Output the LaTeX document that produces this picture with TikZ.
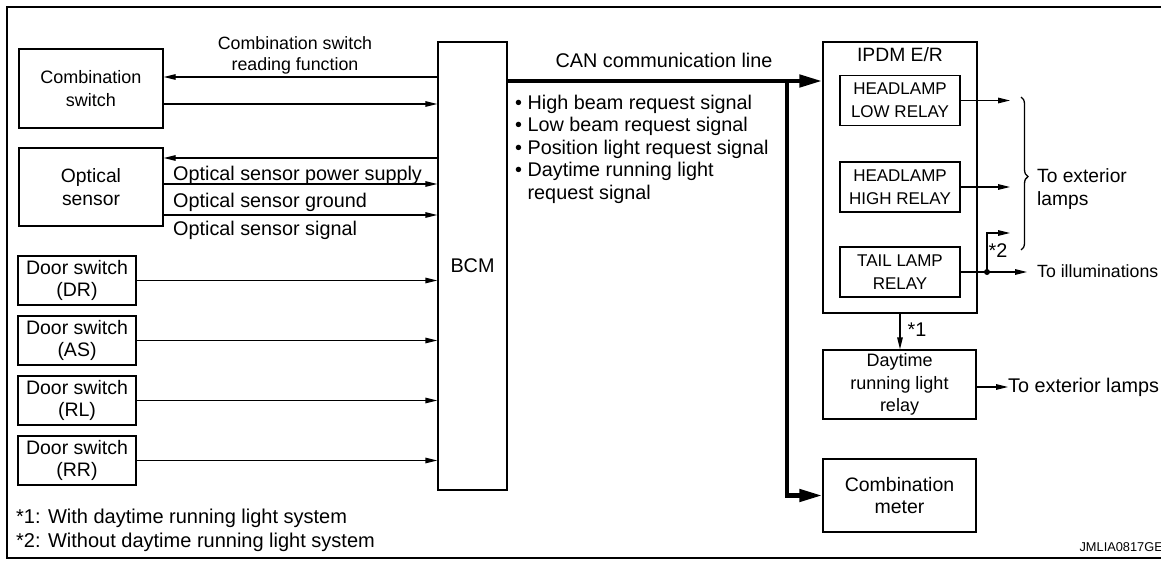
\documentclass[tikz,border=0pt]{standalone}
\usepackage{fontspec}
\setmainfont{Liberation Sans}
\usetikzlibrary{positioning,arrows.meta,decorations.pathreplacing,calc}
\tikzset{
  >={Triangle[length=12pt,width=5.5pt]},
  fsz/.style={font=\fontsize{#1}{22.5}\selectfont},
  every node/.style={fsz=19.8},
  blk/.style args={#1,#2}{
  draw,
  line width=1.3pt,
  align=center,
  inner sep=0pt,
  minimum width=#1pt,
  minimum height=#2pt,
  },
  relay/.style={blk={120,50},font=\fontsize{17}{23}\selectfont},
  sig/.style={->,line width=1.3pt},
  canline/.style={line width=4.5pt,-{Triangle[length=23pt,width=12pt]}},
  txt/.style={inner sep=0pt},
  dots/.style={fill=black,circle,inner sep=0pt,minimum size=6pt},
  brc/.style={decorate,decoration={brace,amplitude=7pt,aspect=0.52},line width=1.3pt}
}
\begin{document}
\begin{tikzpicture}[x=1pt,y=-1pt]
  \useasboundingbox (0,0) rectangle (1161,561);
  \draw[line width=2.6pt] (7,558) -- (7,7) -- (1161,7);
  \draw[line width=2pt] (6,558) -- (1161,558);

  \node[blk={144,79},fsz=18] (combsw) at (91,88.5) {Combination\\switch};
  \node[blk={144,78},fsz=19.3] (optsen) at (91,187) {Optical\\sensor};
  \node[blk={118,49},fsz=19.5] (dsdr) at (77,280.5) {Door switch\\(DR)};
  \node[blk={118,49},fsz=19.5,below=9.7pt of dsdr] (dsas) {Door switch\\(AS)};
  \node[blk={118,49},fsz=19.5,below=9.7pt of dsas] (dsrl) {Door switch\\(RL)};
  \node[blk={118,49},fsz=19.5,below=9.7pt of dsrl] (dsrr) {Door switch\\(RR)};
  \node[blk={69,448}] (bcm) at (472.5,266) {BCM};

  \node[blk={154,271}] (ipdm) at (900,177.5) {};
  \node[txt,fsz=19.3] (ipdmt) at (900,55) {IPDM E/R};
  \node[relay] (lowrly) at (900,100.5) {HEADLAMP\\LOW RELAY};
  \node[relay] (highrly) at (900,187) {HEADLAMP\\HIGH RELAY};
  \node[relay] (tailrly) at (900,272) {TAIL LAMP\\RELAY};
  \node[blk={153,69},fsz=18] (drl) at (899.5,384.5) {Daytime\\running light\\relay};
  \node[blk={153,73},fsz=19.5] (cmtr) at (899.5,495.5) {Combination\\meter};

  % inputs to BCM
  \node[txt,align=center,font=\fontsize{17.8}{21}\selectfont] (cslbl) at (295,55) {Combination switch\\reading function};
  \draw[sig] ([yshift=11.5pt]combsw.east -| bcm.west) -- ([yshift=11.5pt]combsw.east);
  \draw[sig] ([yshift=-15.5pt]combsw.east) -- ([yshift=-15.5pt]combsw.east -| bcm.west);
  \draw[sig] ([yshift=29pt]optsen.east -| bcm.west) -- ([yshift=29pt]optsen.east);
  \draw[sig] ([yshift=3pt]optsen.east) -- ([yshift=3pt]optsen.east -| bcm.west);
  \draw[sig] ([yshift=-28pt]optsen.east) -- ([yshift=-28pt]optsen.east -| bcm.west);
  \node[txt,anchor=west] (pwr) at (173,175) {Optical sensor power supply};
  \node[txt,anchor=west] (gnd) at (173,202) {Optical sensor ground};
  \node[txt,anchor=west] (osig) at (173,230) {Optical sensor signal};
  \foreach \n in {dsdr,dsas,dsrl,dsrr}
    \draw[sig] (\n.east) -- (\n.east -| bcm.west);

  % CAN
  \coordinate (canj) at (787,81);
  \draw[canline] (bcm.east |- canj) -- (ipdm.west |- canj);
  \draw[canline] (canj) |- (cmtr.west);
  \node[txt] (canlbl) at (664,60) {CAN communication line};
  \node[txt,anchor=west,align=left] (reqs) at (515,149) {%
    \textbullet\ High beam request signal\\
    \textbullet\ Low beam request signal\\
    \textbullet\ Position light request signal\\
    \textbullet\ Daytime running light\\
    \phantom{\textbullet\ }request signal};

  % outputs
  \coordinate (xo) at (1010,0);
  \coordinate (ill) at (1027,272);
  \coordinate (t2) at (1010,233);
  \coordinate (drlo) at (1008,387);
  \node[dots] (jn) at (987,272) {};
  \draw[sig] (lowrly.east) -- (lowrly.east -| xo);
  \draw[sig] (highrly.east) -- (highrly.east -| xo);
  \draw[sig] (tailrly.east) -- (ill);
  \draw[sig] (jn.center) |- (t2);
  \node[txt] (n2) at (998,251) {*2};
  \draw[brc] (1021,97) -- (1021,250);
  \node[txt,anchor=west,align=left,fsz=19.2] (extl) at (1037,189) {To exterior\\ lamps};
  \node[txt,anchor=west,fsz=17.7] (illum) at (1037,271) {To illuminations};
  \draw[sig] (ipdm.south) -- (ipdm.south |- drl.north);
  \node[txt] (n1) at (917,330) {*1};
  \draw[sig] (drl.east |- drlo) -- (drlo);
  \node[txt,anchor=west] (drlt) at (drlo) {To exterior lamps};

  \node[txt,anchor=west,fsz=20] (fn1) at (16,518) {*1: With daytime running light system};
  \node[txt,anchor=west,fsz=20] (fn2) at (16,542) {*2: Without daytime running light system};
  \node[txt,anchor=east,font=\fontsize{12.8}{15}\selectfont] (code) at (1163,547) {JMLIA0817GE};
\end{tikzpicture}
\end{document}
